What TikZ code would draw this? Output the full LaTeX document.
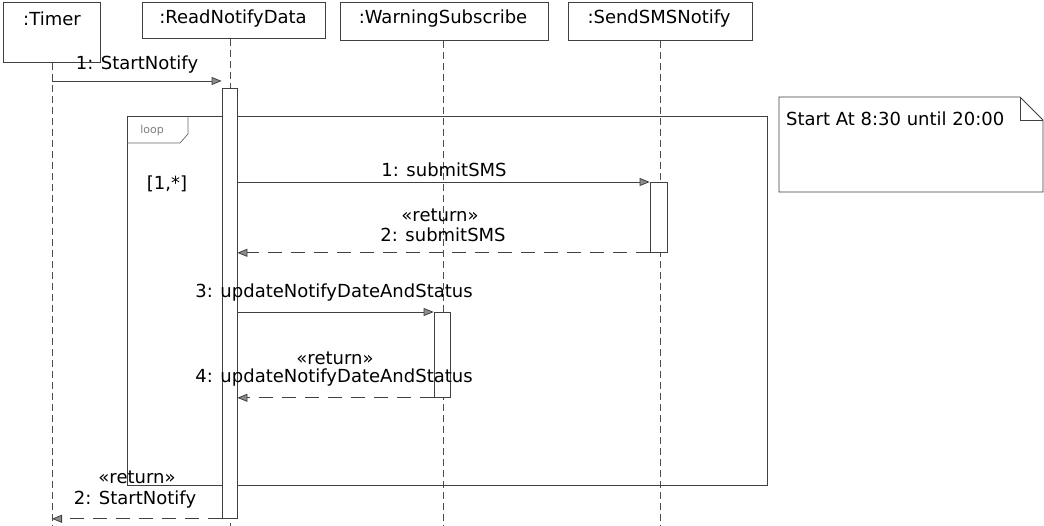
\documentclass[tikz,border=0pt]{standalone}
\usepackage{fontspec}
\setmainfont{DejaVu Sans}
\usetikzlibrary{arrows.meta}
\begin{document}
\begin{tikzpicture}[x=1pt,y=-1pt,
  font=\fontsize{18}{20}\selectfont,
  lncol/.style={draw=black!75, line width=0.8pt},
  headbox/.style={lncol, rectangle, inner sep=0pt, anchor=north west},
  lbl/.style={inner sep=0pt, anchor=center},
  act/.style={lncol, fill=white, rectangle, inner sep=0pt, anchor=north},
  lifeline/.style={draw=black!70, line width=0.8pt, dash pattern=on 7pt off 4pt},
  call/.style={draw=black!75, line width=0.8pt, -{Triangle[length=10pt,width=8pt,fill=black!45]}},
  ret/.style={draw=black!75, line width=0.8pt, dash pattern=on 14pt off 9pt, -{Triangle[length=10pt,width=8pt,fill=black!45]}},
]
\useasboundingbox (0,0) rectangle (1044,526);
\fill[white] (0,0) rectangle (1044,526);

% heads
\node[headbox, minimum width=97pt, minimum height=60pt] (timerhead) at (3,2) {};
\node[lbl] (timerlbl) at (52,19) {:Timer};
\node[headbox, minimum width=183pt, minimum height=36pt] (rndhead) at (142,2) {};
\node[lbl] (rndlbl) at (233,19) {:ReadNotifyData};
\node[headbox, minimum width=208pt, minimum height=38pt] (wsshead) at (340,2) {};
\node[lbl] (wsslbl) at (443,19) {:WarningSubscribe};
\node[headbox, minimum width=184pt, minimum height=38pt] (smshead) at (568,2) {};
\node[lbl] (smslbl) at (659,19) {:SendSMSNotify};

% lifeline ends
\coordinate (timerend) at (52,526);
\coordinate (rndend) at (230,526);
\coordinate (wssend) at (443,526);
\coordinate (smsend) at (660,526);

\draw[lifeline] (timerhead.south -| timerend) -- (timerend);
\draw[lifeline] (rndhead.south -| rndend) -- (rndend);
\draw[lifeline] (wsshead.south -| wssend) -- (wssend);
\draw[lifeline] (smshead.south -| smsend) -- (smsend);

% loop frame
\node[lncol, rectangle, inner sep=0pt, anchor=north west, minimum width=640pt, minimum height=369pt] (loopfr) at (127,116) {};
\draw[draw=black!60, line width=0.7pt] (127,143) -- (180,143) -- (188,134) -- (188,116);
\node[lbl, text=black!50, font=\fontsize{11}{12}\selectfont] (looplbl) at (152,130) {loop};
\node[lbl] (guard) at (167,184) {[1,*]};

% activations
\node[act, minimum width=15pt, minimum height=430pt] (rndact) at (229.5,88) {};
\node[act, minimum width=17pt, minimum height=70pt] (smsact) at (658.5,182) {};
\node[act, minimum width=16pt, minimum height=85pt] (wssact) at (442,312) {};

% messages
\coordinate (m1) at (52,81);
\draw[call] (m1) -- (m1 -| rndact.west);
\node[lbl] (m1lbl) at (137,65) {1: StartNotify};

\draw[call] (rndact.east |- smsact.north west) -- (smsact.north west);
\node[lbl] (m2lbl) at (444,170) {1: submitSMS};

\draw[ret] (smsact.south west) -- (smsact.south west -| rndact.east);
\node[lbl] (m3st) at (440,215) {«return»};
\node[lbl] (m3lbl) at (443,235) {2: submitSMS};

\draw[call] (rndact.east |- wssact.north west) -- (wssact.north west);
\node[lbl] (m4lbl) at (334,293) {3: updateNotifyDateAndStatus};

\draw[ret] (wssact.south west) -- (wssact.south west -| rndact.east);
\node[lbl] (m5st) at (335,358) {«return»};
\node[lbl] (m5lbl) at (334,378) {4: updateNotifyDateAndStatus};

\draw[ret] (rndact.south west) -- (rndact.south west -| timerend);
\node[lbl] (m6st) at (137,477) {«return»};
\node[lbl] (m6lbl) at (135,500) {2: StartNotify};

% note
\draw[draw=black!75, line width=0.8pt] (779,97) -- (1020,97) -- (1043,120) -- (1043,192) -- (779,192) -- cycle;
\draw[draw=black!75, line width=0.8pt] (1020,97) -- (1020,120) -- (1043,120);
\node[anchor=west, inner sep=0pt] (note) at (786,119) {Start At 8:30 until 20:00};
\end{tikzpicture}
\end{document}
